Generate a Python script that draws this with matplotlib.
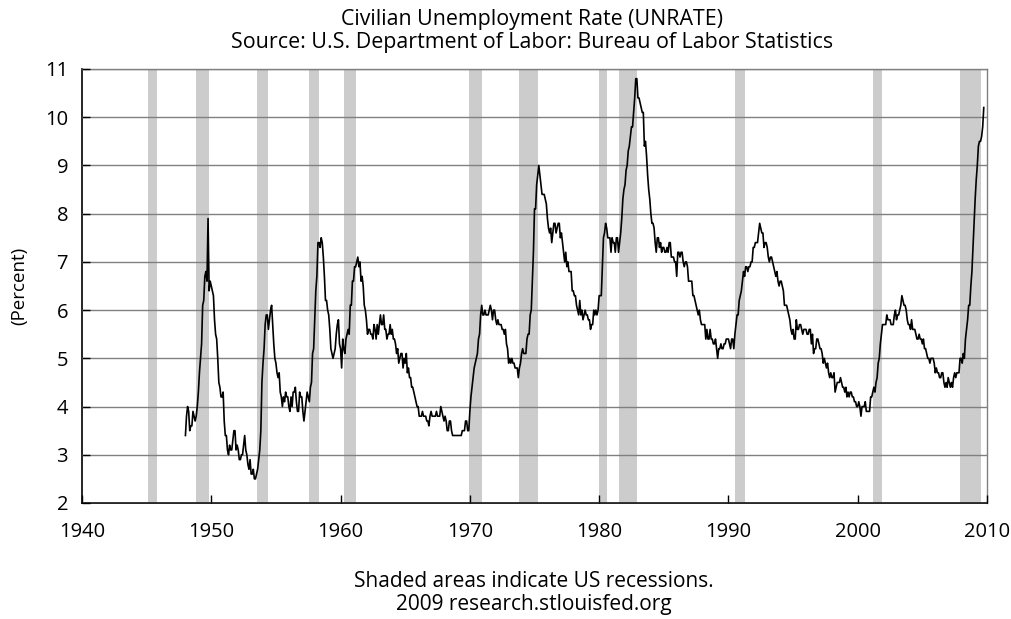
import matplotlib
matplotlib.use("Agg")
import matplotlib.pyplot as plt
import numpy as np

plt.rcParams['font.family'] = ['Open Sans', 'DejaVu Sans']

# Monthly civilian unemployment rate (%), Jan 1948 onward
u1948_1959 = [
    3.4, 3.8, 4.0, 3.9, 3.5, 3.6, 3.6, 3.9, 3.8, 3.7, 3.8, 4.0,
    4.3, 4.7, 5.0, 5.3, 6.1, 6.2, 6.7, 6.8, 6.6, 7.9, 6.4, 6.6,
    6.5, 6.4, 6.3, 5.8, 5.5, 5.4, 5.0, 4.5, 4.4, 4.2, 4.2, 4.3,
    3.7, 3.4, 3.4, 3.1, 3.0, 3.2, 3.1, 3.1, 3.3, 3.5, 3.5, 3.1,
    3.2, 3.1, 2.9, 2.9, 3.0, 3.0, 3.2, 3.4, 3.1, 3.0, 2.8, 2.7,
    2.9, 2.6, 2.6, 2.7, 2.5, 2.5, 2.6, 2.7, 2.9, 3.1, 3.5, 4.5,
    4.9, 5.2, 5.7, 5.9, 5.9, 5.6, 5.8, 6.0, 6.1, 5.7, 5.3, 5.0,
    4.9, 4.7, 4.6, 4.7, 4.3, 4.2, 4.0, 4.2, 4.1, 4.3, 4.2, 4.2,
    4.0, 3.9, 4.2, 4.0, 4.3, 4.3, 4.4, 4.1, 3.9, 3.9, 4.3, 4.2,
    4.2, 3.9, 3.7, 3.9, 4.1, 4.3, 4.2, 4.1, 4.4, 4.5, 5.1, 5.2,
    5.8, 6.4, 6.7, 7.4, 7.4, 7.3, 7.5, 7.4, 7.1, 6.7, 6.2, 6.2,
    6.0, 5.9, 5.6, 5.2, 5.1, 5.0, 5.1, 5.2, 5.5, 5.7, 5.8, 5.3,
]
u1960_1969 = [
    5.2, 4.8, 5.4, 5.2, 5.1, 5.4, 5.5, 5.6, 5.5, 6.1, 6.1, 6.6,
    6.6, 6.9, 6.9, 7.0, 7.1, 6.9, 7.0, 6.6, 6.7, 6.5, 6.1, 6.0,
    5.8, 5.5, 5.6, 5.6, 5.5, 5.5, 5.4, 5.7, 5.6, 5.4, 5.7, 5.5,
    5.7, 5.9, 5.7, 5.7, 5.9, 5.6, 5.6, 5.4, 5.5, 5.5, 5.7, 5.5,
    5.6, 5.4, 5.4, 5.3, 5.1, 5.2, 4.9, 5.0, 5.1, 5.1, 4.8, 5.0,
    4.9, 5.1, 4.7, 4.8, 4.6, 4.6, 4.4, 4.4, 4.3, 4.2, 4.1, 4.0,
    4.0, 3.8, 3.8, 3.8, 3.9, 3.8, 3.8, 3.8, 3.7, 3.7, 3.6, 3.8,
    3.9, 3.8, 3.8, 3.8, 3.8, 3.9, 3.8, 3.8, 3.8, 4.0, 3.9, 3.8,
    3.7, 3.8, 3.7, 3.5, 3.5, 3.7, 3.7, 3.5, 3.4, 3.4, 3.4, 3.4,
    3.4, 3.4, 3.4, 3.4, 3.4, 3.5, 3.5, 3.5, 3.7, 3.7, 3.5, 3.5,
]
u1970_1979 = [
    3.9, 4.2, 4.4, 4.6, 4.8, 4.9, 5.0, 5.1, 5.4, 5.5, 5.9, 6.1,
    5.9, 5.9, 6.0, 5.9, 5.9, 5.9, 6.0, 6.1, 6.0, 5.8, 6.0, 6.0,
    5.8, 5.7, 5.8, 5.7, 5.7, 5.7, 5.6, 5.6, 5.5, 5.6, 5.3, 5.2,
    4.9, 5.0, 4.9, 5.0, 4.9, 4.9, 4.8, 4.8, 4.8, 4.6, 4.8, 4.9,
    5.1, 5.2, 5.1, 5.1, 5.1, 5.4, 5.5, 5.5, 5.9, 6.0, 6.6, 7.2,
    8.1, 8.1, 8.6, 8.8, 9.0, 8.8, 8.6, 8.4, 8.4, 8.4, 8.3, 8.2,
    7.9, 7.7, 7.6, 7.7, 7.4, 7.6, 7.8, 7.8, 7.6, 7.7, 7.8, 7.8,
    7.5, 7.6, 7.4, 7.2, 7.0, 7.2, 6.9, 7.0, 6.8, 6.8, 6.8, 6.4,
    6.4, 6.3, 6.3, 6.1, 6.0, 5.9, 6.2, 5.9, 6.0, 5.8, 5.9, 6.0,
    5.9, 5.9, 5.8, 5.8, 5.6, 5.7, 5.7, 6.0, 5.9, 6.0, 5.9, 6.0,
]
u1980_1989 = [
    6.3, 6.3, 6.3, 6.9, 7.5, 7.6, 7.8, 7.7, 7.5, 7.5, 7.5, 7.2,
    7.5, 7.4, 7.4, 7.2, 7.5, 7.5, 7.2, 7.4, 7.6, 7.9, 8.3, 8.5,
    8.6, 8.9, 9.0, 9.3, 9.4, 9.6, 9.8, 9.8, 10.1, 10.4, 10.8, 10.8,
    10.4, 10.4, 10.3, 10.2, 10.1, 10.1, 9.4, 9.5, 9.2, 8.8, 8.5, 8.3,
    8.0, 7.8, 7.8, 7.7, 7.4, 7.2, 7.5, 7.5, 7.3, 7.4, 7.2, 7.3,
    7.3, 7.2, 7.2, 7.3, 7.2, 7.4, 7.4, 7.1, 7.1, 7.1, 7.0, 7.0,
    6.7, 7.2, 7.2, 7.1, 7.2, 7.2, 7.0, 6.9, 7.0, 7.0, 6.9, 6.6,
    6.6, 6.6, 6.6, 6.3, 6.3, 6.2, 6.1, 6.0, 5.9, 6.0, 5.8, 5.7,
    5.7, 5.7, 5.7, 5.4, 5.6, 5.4, 5.4, 5.6, 5.4, 5.4, 5.3, 5.3,
    5.4, 5.2, 5.0, 5.2, 5.2, 5.3, 5.2, 5.2, 5.3, 5.3, 5.4, 5.4,
]
u1990_1999 = [
    5.4, 5.3, 5.2, 5.4, 5.4, 5.2, 5.5, 5.7, 5.9, 5.9, 6.2, 6.3,
    6.4, 6.6, 6.8, 6.7, 6.9, 6.9, 6.8, 6.9, 6.9, 7.0, 7.0, 7.3,
    7.3, 7.4, 7.4, 7.4, 7.6, 7.8, 7.7, 7.6, 7.6, 7.3, 7.4, 7.4,
    7.3, 7.1, 7.0, 7.1, 7.1, 7.0, 6.9, 6.8, 6.7, 6.8, 6.6, 6.5,
    6.6, 6.6, 6.5, 6.4, 6.1, 6.1, 6.1, 6.0, 5.9, 5.8, 5.6, 5.5,
    5.6, 5.4, 5.4, 5.8, 5.6, 5.6, 5.7, 5.7, 5.6, 5.5, 5.6, 5.6,
    5.6, 5.5, 5.5, 5.6, 5.6, 5.3, 5.5, 5.1, 5.2, 5.2, 5.4, 5.4,
    5.3, 5.2, 5.2, 5.1, 4.9, 5.0, 4.9, 4.8, 4.9, 4.7, 4.6, 4.7,
    4.6, 4.6, 4.7, 4.3, 4.4, 4.5, 4.5, 4.5, 4.6, 4.5, 4.4, 4.4,
    4.3, 4.4, 4.2, 4.3, 4.2, 4.3, 4.3, 4.2, 4.2, 4.1, 4.1, 4.0,
]
u2000_2009 = [
    4.0, 4.1, 4.0, 3.8, 4.0, 4.0, 4.0, 4.1, 3.9, 3.9, 3.9, 3.9,
    4.2, 4.2, 4.3, 4.4, 4.3, 4.5, 4.6, 4.9, 5.0, 5.3, 5.5, 5.7,
    5.7, 5.7, 5.7, 5.9, 5.8, 5.8, 5.8, 5.7, 5.7, 5.7, 5.9, 6.0,
    5.8, 5.9, 5.9, 6.0, 6.1, 6.3, 6.2, 6.1, 6.1, 6.0, 5.8, 5.7,
    5.7, 5.6, 5.8, 5.6, 5.6, 5.6, 5.5, 5.4, 5.4, 5.5, 5.4, 5.4,
    5.3, 5.4, 5.2, 5.2, 5.1, 5.0, 5.0, 4.9, 5.0, 5.0, 5.0, 4.9,
    4.7, 4.8, 4.7, 4.7, 4.6, 4.6, 4.7, 4.7, 4.5, 4.4, 4.5, 4.4,
    4.6, 4.5, 4.4, 4.5, 4.4, 4.6, 4.7, 4.6, 4.7, 4.7, 4.7, 5.0,
    5.0, 4.9, 5.1, 5.0, 5.4, 5.6, 5.8, 6.1, 6.1, 6.5, 6.8, 7.3,
    7.8, 8.3, 8.7, 9.0, 9.4, 9.5, 9.5, 9.6, 9.8, 10.2,
]
start_year = 1948

# NBER recessions (peak month, trough month)
rec_start = ['1945-02', '1948-11', '1953-07', '1957-08', '1960-04', '1969-12',
             '1973-11', '1980-01', '1981-07', '1990-07', '2001-03', '2007-12']
rec_end = ['1945-10', '1949-10', '1954-05', '1958-04', '1961-02', '1970-11',
           '1975-03', '1980-07', '1982-11', '1991-03', '2001-11', '2009-06']

x_ticks = [1940, 1950, 1960, 1970, 1980, 1990, 2000, 2010]
y_ticks = [2, 3, 4, 5, 6, 7, 8, 9, 10, 11]

title = "Civilian Unemployment Rate (UNRATE)\nSource: U.S. Department of Labor: Bureau of Labor Statistics"
ylabel = "(Percent)"
footer = "Shaded areas indicate US recessions.\n2009 research.stlouisfed.org"


def ym(s):
    y, m = s.split('-')
    return int(y) + (int(m) - 1) / 12.0


values = np.array(u1948_1959 + u1960_1969 + u1970_1979 + u1980_1989 + u1990_1999 + u2000_2009)
dates = start_year + np.arange(len(values)) / 12.0

fig = plt.figure(figsize=(10.12, 6.19), dpi=100)
ax = fig.add_axes([82 / 1012, 1 - 503 / 619, (987 - 82) / 1012, (503 - 69) / 619])

for s, e in zip(rec_start, rec_end):
    ax.axvspan(ym(s), ym(e) + 1 / 12.0, color='#cccccc', lw=0, zorder=0)

ax.plot(dates, values, color='black', lw=1.2, zorder=3)

ax.set_xlim(1940, 2010)
ax.set_ylim(2, 11)
ax.set_xticks(x_ticks)
ax.set_yticks(y_ticks)
ax.set_xticklabels([str(t) for t in x_ticks])
ax.set_yticklabels([str(t) for t in y_ticks])
ax.yaxis.grid(True, color='#808080', lw=1.0, zorder=1)
ax.set_axisbelow(False)
for gl in ax.get_ygridlines():
    gl.set_zorder(1)

ax.tick_params(axis='both', direction='in', length=6, width=1.0, color='black',
               labelsize=14.5)
ax.tick_params(axis='x', pad=14)
ax.tick_params(axis='y', pad=10)

for side in ['left', 'bottom']:
    ax.spines[side].set_color('black')
    ax.spines[side].set_linewidth(1.2)
for side in ['top', 'right']:
    ax.spines[side].set_color('#808080')
    ax.spines[side].set_linewidth(1.0)

ax.set_ylabel(ylabel, fontsize=13.5, labelpad=12)

fig.text(532 / 1012, 1 - 31 / 619, title, ha='center', va='center', fontsize=15.4,
         linespacing=1.15)
fig.text(534 / 1012, 1 - 593 / 619, footer, ha='center', va='center', fontsize=15,
         linespacing=1.15)

fig.savefig('out.png', dpi=100)
